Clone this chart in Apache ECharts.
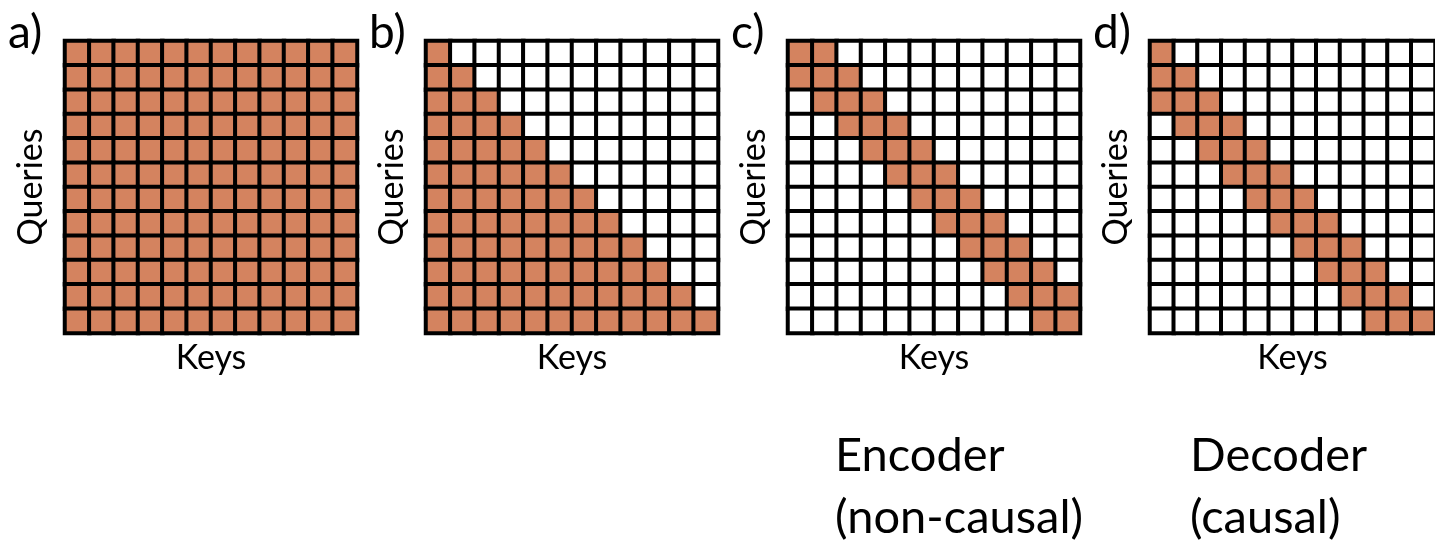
<!DOCTYPE html>
<html>
<head>
<meta charset="utf-8">
<title>Attention masks</title>
<script src="https://cdn.jsdelivr.net/npm/echarts@6/dist/echarts.min.js"></script>
<style>
  html, body { margin: 0; padding: 0; background: #ffffff; }
  #chart { width: 1435px; height: 542px; }
</style>
</head>
<body>
<div id="chart"></div>
<script>
// 12 keys by 12 queries; 1 = query may attend to key, 0 = masked
const keys = ['k1','k2','k3','k4','k5','k6','k7','k8','k9','k10','k11','k12'];
const queries = ['q1','q2','q3','q4','q5','q6','q7','q8','q9','q10','q11','q12'];

// a) full attention
const maskFull = [
  [1,1,1,1,1,1,1,1,1,1,1,1],
  [1,1,1,1,1,1,1,1,1,1,1,1],
  [1,1,1,1,1,1,1,1,1,1,1,1],
  [1,1,1,1,1,1,1,1,1,1,1,1],
  [1,1,1,1,1,1,1,1,1,1,1,1],
  [1,1,1,1,1,1,1,1,1,1,1,1],
  [1,1,1,1,1,1,1,1,1,1,1,1],
  [1,1,1,1,1,1,1,1,1,1,1,1],
  [1,1,1,1,1,1,1,1,1,1,1,1],
  [1,1,1,1,1,1,1,1,1,1,1,1],
  [1,1,1,1,1,1,1,1,1,1,1,1],
  [1,1,1,1,1,1,1,1,1,1,1,1]
];

// b) causal (lower triangle)
const maskCausal = [
  [1,0,0,0,0,0,0,0,0,0,0,0],
  [1,1,0,0,0,0,0,0,0,0,0,0],
  [1,1,1,0,0,0,0,0,0,0,0,0],
  [1,1,1,1,0,0,0,0,0,0,0,0],
  [1,1,1,1,1,0,0,0,0,0,0,0],
  [1,1,1,1,1,1,0,0,0,0,0,0],
  [1,1,1,1,1,1,1,0,0,0,0,0],
  [1,1,1,1,1,1,1,1,0,0,0,0],
  [1,1,1,1,1,1,1,1,1,0,0,0],
  [1,1,1,1,1,1,1,1,1,1,0,0],
  [1,1,1,1,1,1,1,1,1,1,1,0],
  [1,1,1,1,1,1,1,1,1,1,1,1]
];

// c) sliding window, non-causal (one neighbour each side)
const maskEncoder = [
  [1,1,0,0,0,0,0,0,0,0,0,0],
  [1,1,1,0,0,0,0,0,0,0,0,0],
  [0,1,1,1,0,0,0,0,0,0,0,0],
  [0,0,1,1,1,0,0,0,0,0,0,0],
  [0,0,0,1,1,1,0,0,0,0,0,0],
  [0,0,0,0,1,1,1,0,0,0,0,0],
  [0,0,0,0,0,1,1,1,0,0,0,0],
  [0,0,0,0,0,0,1,1,1,0,0,0],
  [0,0,0,0,0,0,0,1,1,1,0,0],
  [0,0,0,0,0,0,0,0,1,1,1,0],
  [0,0,0,0,0,0,0,0,0,1,1,1],
  [0,0,0,0,0,0,0,0,0,0,1,1]
];

// d) sliding window, causal (two previous keys plus itself)
const maskDecoder = [
  [1,0,0,0,0,0,0,0,0,0,0,0],
  [1,1,0,0,0,0,0,0,0,0,0,0],
  [1,1,1,0,0,0,0,0,0,0,0,0],
  [0,1,1,1,0,0,0,0,0,0,0,0],
  [0,0,1,1,1,0,0,0,0,0,0,0],
  [0,0,0,1,1,1,0,0,0,0,0,0],
  [0,0,0,0,1,1,1,0,0,0,0,0],
  [0,0,0,0,0,1,1,1,0,0,0,0],
  [0,0,0,0,0,0,1,1,1,0,0,0],
  [0,0,0,0,0,0,0,1,1,1,0,0],
  [0,0,0,0,0,0,0,0,1,1,1,0],
  [0,0,0,0,0,0,0,0,0,1,1,1]
];

const panelLetters = ['a)', 'b)', 'c)', 'd)'];
const xAxisTitle = 'Keys';
const yAxisTitle = 'Queries';
const captions = [
  { panel: 2, text: 'Encoder\n(non-causal)', dx: 47 },
  { panel: 3, text: 'Decoder\n(causal)', dx: 40 }
];

const masks = [maskFull, maskCausal, maskEncoder, maskDecoder];

const ON = '#D4835F';
const OFF = '#FFFFFF';
const panelLeft = [65, 426, 788, 1150];
const panelTop = 41;
const panelSize = 292;
const labelFont = 'Lato, "Open Sans", sans-serif';

function toCells(mask) {
  const cells = [];
  mask.forEach((row, qi) => {
    row.forEach((v, ki) => cells.push([ki, qi, v]));
  });
  return cells;
}

const grid = [], xAxis = [], yAxis = [], series = [], graphic = [];

masks.forEach((mask, i) => {
  grid.push({ left: panelLeft[i], top: panelTop, width: panelSize, height: panelSize, containLabel: false });
  xAxis.push({
    type: 'category', gridIndex: i, data: keys,
    axisLine: { show: false }, axisTick: { show: false },
    axisLabel: { show: false }, splitLine: { show: false },
    name: xAxisTitle, nameLocation: 'middle', nameGap: 8,
    nameTextStyle: { fontFamily: labelFont, fontSize: 34, color: '#000' }
  });
  yAxis.push({
    type: 'category', gridIndex: i, data: queries, inverse: true,
    axisLine: { show: false }, axisTick: { show: false },
    axisLabel: { show: false }, splitLine: { show: false },
    name: yAxisTitle, nameLocation: 'middle', nameGap: 17,
    nameTextStyle: { fontFamily: labelFont, fontSize: 34, color: '#000' }
  });
  series.push({
    type: 'heatmap', xAxisIndex: i, yAxisIndex: i,
    data: toCells(mask),
    itemStyle: { borderColor: '#000', borderWidth: 4 },
    emphasis: { disabled: true },
    animation: false
  });
  graphic.push({
    type: 'text', left: panelLeft[i] - 57, top: 10,
    style: { text: panelLetters[i], font: '46px ' + labelFont, fill: '#000' }
  });
});

captions.forEach(c => {
  graphic.push({
    type: 'text', left: panelLeft[c.panel] + c.dx, top: 425,
    style: { text: c.text, font: '47px ' + labelFont, fill: '#000', lineHeight: 62 }
  });
});

const chart = echarts.init(document.getElementById('chart'), null, { renderer: 'canvas' });
chart.setOption({
  animation: false,
  backgroundColor: '#ffffff',
  grid, xAxis, yAxis, series, graphic,
  visualMap: {
    show: false, type: 'piecewise', seriesIndex: [0, 1, 2, 3], dimension: 2,
    pieces: [
      { value: 0, color: OFF },
      { value: 1, color: ON }
    ]
  }
});
</script>
</body>
</html>
